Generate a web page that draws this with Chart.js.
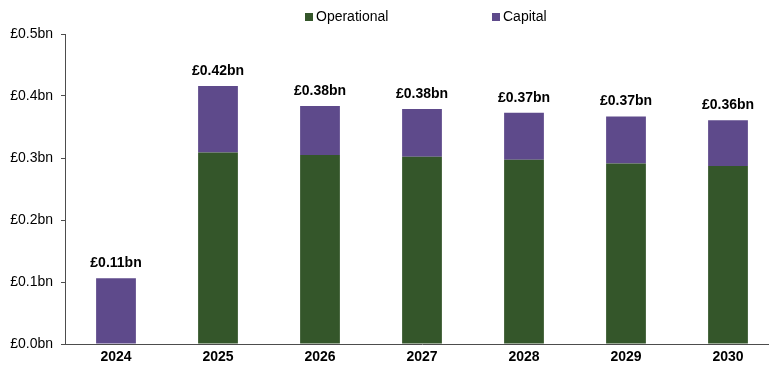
<!DOCTYPE html>
<html>
<head>
<meta charset="utf-8">
<script src="https://cdn.jsdelivr.net/npm/chart.js@4.4.1/dist/chart.umd.min.js"></script>
<style>
  html, body { margin: 0; padding: 0; background: #fff; overflow: hidden; }
  #wrap { width: 769px; height: 369px; overflow: hidden; }
</style>
</head>
<body>
<div id="wrap"><canvas id="costChart" width="780" height="369"></canvas></div>
<script>
  const years = ['2024', '2025', '2026', '2027', '2028', '2029', '2030'];
  const operational = [0, 0.309, 0.305, 0.302, 0.297, 0.291, 0.287];
  const capital = [0.106, 0.107, 0.079, 0.077, 0.076, 0.076, 0.074];
  const yTicks = [0, 0.1, 0.2, 0.3, 0.4, 0.5];

  const GREEN = '#34562a';
  const PURPLE = '#5e4a8b';
  const AXIS = '#4d4d4d';
  const FONT = "'Liberation Sans', Arial, sans-serif";

  // total above each stacked column
  const totalLabels = {
    id: 'totalLabels',
    afterDatasetsDraw(chart) {
      const ctx = chart.ctx;
      const top = chart.getDatasetMeta(1);
      ctx.save();
      ctx.font = 'bold 14px ' + FONT;
      ctx.fillStyle = '#000';
      ctx.textAlign = 'center';
      ctx.textBaseline = 'bottom';
      top.data.forEach((bar, i) => {
        const total = operational[i] + capital[i];
        ctx.fillText('£' + total.toFixed(2) + 'bn', bar.x, bar.y - 8);
      });
      ctx.restore();
    }
  };

  // legend across the top, spaced wide apart
  const topLegend = {
    id: 'topLegend',
    afterDraw(chart) {
      const ctx = chart.ctx;
      const items = [
        { text: chart.data.datasets[0].label, color: chart.data.datasets[0].backgroundColor, x: 305 },
        { text: chart.data.datasets[1].label, color: chart.data.datasets[1].backgroundColor, x: 492 }
      ];
      ctx.save();
      ctx.font = '14px ' + FONT;
      ctx.textBaseline = 'middle';
      ctx.textAlign = 'left';
      items.forEach(it => {
        ctx.fillStyle = it.color;
        ctx.fillRect(it.x, 13, 8, 8);
        ctx.fillStyle = '#000';
        ctx.fillText(it.text, it.x + 11, 17);
      });
      ctx.restore();
    }
  };

  new Chart(document.getElementById('costChart'), {
    type: 'bar',
    data: {
      labels: years,
      datasets: [
        { label: 'Operational', data: operational, backgroundColor: GREEN,
          barPercentage: 0.39, categoryPercentage: 1 },
        { label: 'Capital', data: capital, backgroundColor: PURPLE,
          barPercentage: 0.39, categoryPercentage: 1 }
      ]
    },
    options: {
      responsive: false,
      animation: false,
      layout: { padding: { top: 34, right: 1, bottom: 0, left: 0 } },
      plugins: {
        legend: { display: false },
        tooltip: { enabled: false }
      },
      scales: {
        x: {
          stacked: true,
          grid: { display: false, drawTicks: false },
          border: { color: AXIS, width: 1 },
          ticks: { color: '#000', font: { family: FONT, size: 14, weight: 'bold' }, padding: 5 },
          afterFit(scale) { scale.height = 25; }
        },
        y: {
          stacked: true,
          min: 0,
          max: 0.5,
          afterBuildTicks(scale) { scale.ticks = yTicks.map(v => ({ value: v })); },
          grid: { drawOnChartArea: false, drawTicks: true, tickLength: 4, color: AXIS },
          border: { color: AXIS, width: 1 },
          ticks: {
            color: '#000',
            padding: 8,
            font: { family: FONT, size: 14 },
            callback: v => '£' + v.toFixed(1) + 'bn'
          },
          afterFit(scale) { scale.width = 65; }
        }
      }
    },
    plugins: [totalLabels, topLegend]
  });
</script>
</body>
</html>
